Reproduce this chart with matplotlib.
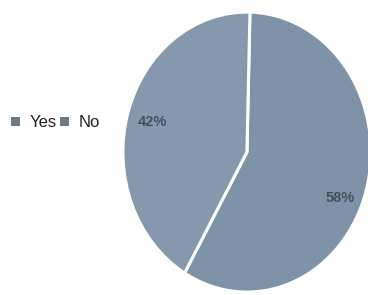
import matplotlib
matplotlib.use("Agg")
import matplotlib.pyplot as plt

labels = ["Yes", "No"]
values = [58, 42]
colors = ["#7e92a8", "#8698ad"]

plt.rcParams["font.family"] = ["Liberation Sans", "DejaVu Sans"]
fig = plt.figure(figsize=(3.68, 2.95), dpi=100)
ax = fig.add_axes([0.334, 0.010, 0.674, 0.949])
wedges, texts, autotexts = ax.pie(
    values, colors=colors, startangle=88.6, counterclock=False,
    autopct="%d%%", pctdistance=0.79,
    wedgeprops=dict(edgecolor="white", linewidth=2.2),
    textprops=dict(color="#46515e", fontsize=10.5, fontweight="bold"))
autotexts[0].set_position((0.75, -0.33))  # label sits a bit lower in the original
ax.set_aspect("auto")
ax.set_xlim(-1.0, 1.0)
ax.set_ylim(-1.0, 1.0)

fig.legend(wedges, labels, ncol=2, loc="center left", bbox_to_anchor=(-0.015, 0.585),
           frameon=False, handlelength=0.7, handleheight=0.7, handletextpad=0.5,
           columnspacing=0.1, fontsize=12, labelcolor="#222222")
for h in fig.legends[0].legend_handles:
    h.set_facecolor("#6f7985")
fig.savefig("out.png", dpi=100)
